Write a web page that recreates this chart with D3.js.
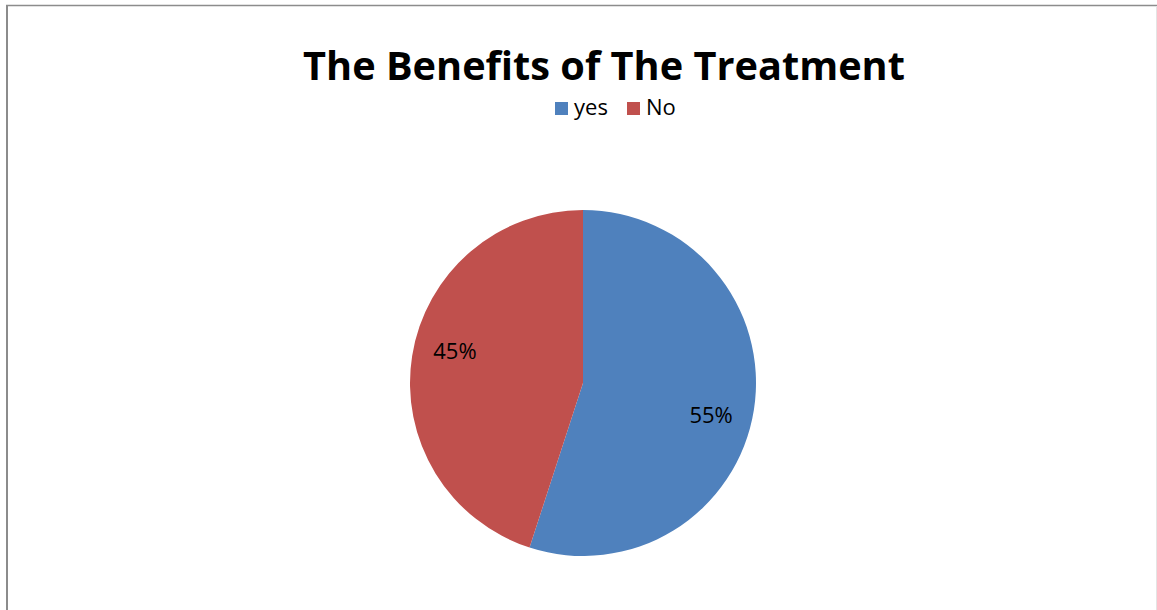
<!DOCTYPE html>
<html>
<head>
<meta charset="utf-8">
<script src="https://cdn.jsdelivr.net/npm/d3@7"></script>
<style>
  html, body { margin: 0; padding: 0; background: #fff; }
  svg { display: block; }
  text { font-family: "Open Sans", "DejaVu Sans", sans-serif; fill: #000; }
</style>
</head>
<body>
<svg id="chart" width="1157" height="610"></svg>
<script>
// Survey answers and their shares (percent)
const categories = ["yes", "No"];
const values = [55, 45];
const colors = ["#4F81BD", "#C0504D"];
const title = "The Benefits of The Treatment";

const svg = d3.select("#chart");
const W = 1157, H = 610;

// Chart frame: grey left and top edges, faint right edge
svg.append("line").attr("x1", 7).attr("x2", 7).attr("y1", 5).attr("y2", H)
  .attr("stroke", "#8c8c8c").attr("stroke-width", 2);
svg.append("line").attr("x1", 6).attr("x2", W).attr("y1", 5.5).attr("y2", 5.5)
  .attr("stroke", "#8c8c8c").attr("stroke-width", 1.5);
svg.append("line").attr("x1", W - 0.5).attr("x2", W - 0.5).attr("y1", 6).attr("y2", H)
  .attr("stroke", "#e4e4e4").attr("stroke-width", 1);

// Title, scaled to the target width
const titleText = svg.append("text")
  .attr("x", 604).attr("y", 80)
  .attr("text-anchor", "middle")
  .attr("font-weight", "bold")
  .attr("font-size", 44)
  .text(title);
const tw = titleText.node().getComputedTextLength();
titleText.attr("font-size", 44 * 602 / tw);

// Legend
const legend = svg.append("g").attr("transform", "translate(555,102)");
const legendX = [0, 72];
categories.forEach((c, i) => {
  const g = legend.append("g").attr("transform", `translate(${legendX[i]},0)`);
  g.append("rect").attr("width", 13).attr("height", 13).attr("fill", colors[i]);
  g.append("text").attr("x", 19).attr("y", 13).attr("font-size", 22).text(c);
});

// Pie
const cx = 583, cy = 383, r = 173;
const pie = d3.pie().sort(null).value(d => d.value);
const data = pie(categories.map((c, i) => ({ name: c, value: values[i] })));
const arc = d3.arc().innerRadius(0).outerRadius(r);
const labelArc = d3.arc().innerRadius(132).outerRadius(132);

const g = svg.append("g").attr("transform", `translate(${cx},${cy})`);
g.selectAll("path").data(data).enter().append("path")
  .attr("d", arc)
  .attr("fill", (d, i) => colors[i]);

// Percentage labels, nudged slightly clockwise of the slice middle
const shift = 5 * Math.PI / 180;
g.selectAll("text.lbl").data(data).enter().append("text")
  .attr("class", "lbl")
  .attr("transform", d => {
    const a = (d.startAngle + d.endAngle) / 2 + shift;
    const [x, y] = labelArc.centroid({ startAngle: a, endAngle: a });
    return `translate(${x},${y})`;
  })
  .attr("text-anchor", "middle")
  .attr("dy", "0.35em")
  .attr("font-size", 22)
  .text(d => d.data.value + "%");
</script>
</body>
</html>
